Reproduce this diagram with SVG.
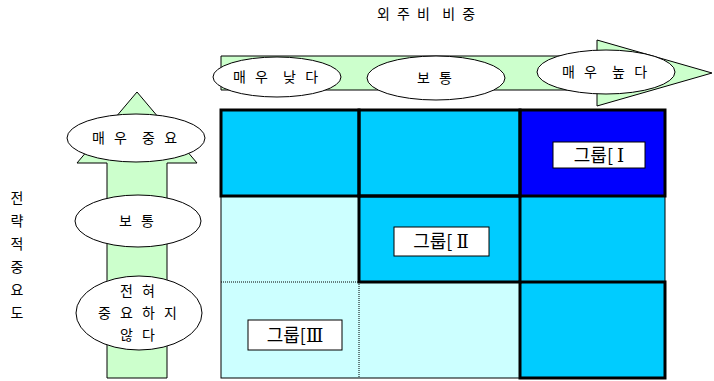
<svg xmlns="http://www.w3.org/2000/svg" width="714" height="381" viewBox="0 0 714 381">
<style>
text{white-space:pre}
.lbl{font-family:"Noto Sans CJK KR","Liberation Sans",sans-serif;font-size:14px;fill:#000;text-anchor:middle}
.grp{font-family:"Noto Sans CJK KR","Liberation Serif",serif;font-size:18px;fill:#000;text-anchor:middle}
.num{font-family:"DejaVu Serif","Noto Sans CJK KR",serif}
.ell{fill:#fff;stroke:#000;stroke-width:1}
.arrow{fill:#CCFFCC;stroke:#000;stroke-width:1}
.thin{fill:none;stroke:#000;stroke-width:1}
.thick{fill:none;stroke:#000;stroke-width:3}
.box{fill:#fff;stroke:#000;stroke-width:1}
</style>
<rect width="714" height="381" fill="#fff"/>
<text id="title-x" class="lbl" x="427" y="19" letter-spacing="2" xml:space="preserve">외 주 비  비 중</text>
<g id="title-y" class="lbl">
<text x="17" y="203">전</text>
<text x="17" y="226">략</text>
<text x="17" y="249">적</text>
<text x="17" y="272">중</text>
<text x="17" y="295">요</text>
<text x="17" y="318">도</text>
</g>
<g id="grid">
<rect x="221" y="110" width="138" height="86" fill="#00CCFF"/>
<rect x="359" y="110" width="161" height="86" fill="#00CCFF"/>
<rect x="520" y="110" width="145" height="86" fill="#0000FF"/>
<rect x="221" y="196" width="138" height="86" fill="#CCFFFF"/>
<rect x="359" y="196" width="161" height="86" fill="#00CCFF"/>
<rect x="520" y="196" width="145" height="86" fill="#00CCFF"/>
<rect x="221" y="282" width="138" height="96" fill="#CCFFFF"/>
<rect x="359" y="282" width="161" height="96" fill="#CCFFFF"/>
<rect x="520" y="282" width="145" height="96" fill="#00CCFF"/>
<rect class="thin" x="221" y="110" width="444" height="268"/>
<line class="thin" x1="221" y1="196" x2="665" y2="196"/>
<line x1="221" y1="282" x2="359" y2="282" stroke="#000" stroke-width="1" stroke-dasharray="1,1"/>
<line x1="359" y1="282" x2="359" y2="378" stroke="#000" stroke-width="1" stroke-dasharray="1,1"/>
<line class="thin" x1="520" y1="110" x2="520" y2="378"/>
<line class="thin" x1="359" y1="110" x2="359" y2="282"/>
<rect class="thick" x="221" y="110" width="138" height="86"/>
<rect class="thick" x="359" y="110" width="161" height="86"/>
<rect class="thick" x="520" y="110" width="145" height="86"/>
<rect class="thick" x="359" y="196" width="161" height="86" stroke-width="2.5"/>
<rect class="thick" x="520" y="282" width="145" height="96"/>
</g>
<g id="group1">
<rect class="box" x="553" y="142" width="92" height="26"/>
<text class="grp" x="599" y="162" xml:space="preserve">그룹[ <tspan class="num">Ⅰ</tspan></text>
</g>
<g id="group2">
<rect class="box" x="394" y="227" width="95" height="29"/>
<text class="grp" x="441" y="248" xml:space="preserve">그룹[ <tspan class="num">Ⅱ</tspan></text>
</g>
<g id="group3">
<rect class="box" x="248" y="320" width="94" height="30"/>
<text class="grp" x="295" y="342">그룹[<tspan class="num">Ⅲ</tspan></text>
</g>
<g id="arrow-x">
<polygon class="arrow" points="221,56 597,56 597,40 712,73 597,106 597,90 221,90"/>
</g>
<g id="arrow-y">
<polygon class="arrow" points="107,378 107,163 77,163 137,92 197,163 167,163 167,378"/>
</g>
<g id="x-low">
<ellipse class="ell" cx="277" cy="77" rx="64" ry="20"/>
<text class="lbl" x="277" y="82" letter-spacing="3" xml:space="preserve">매 우  낮 다</text>
</g>
<g id="x-mid">
<ellipse class="ell" cx="436" cy="78" rx="69" ry="22"/>
<text class="lbl" x="436" y="83" letter-spacing="3" xml:space="preserve">보 통</text>
</g>
<g id="x-high">
<ellipse class="ell" cx="606" cy="72" rx="69" ry="22"/>
<text class="lbl" x="606" y="77" letter-spacing="3" xml:space="preserve">매 우  높 다</text>
</g>
<g id="y-high">
<ellipse class="ell" cx="136" cy="138" rx="69" ry="24"/>
<text class="lbl" x="136" y="143" letter-spacing="3" xml:space="preserve">매 우  중 요</text>
</g>
<g id="y-mid">
<ellipse class="ell" cx="138" cy="221" rx="63" ry="26"/>
<text class="lbl" x="138" y="226" letter-spacing="3" xml:space="preserve">보 통</text>
</g>
<g id="y-low">
<ellipse class="ell" cx="139" cy="313" rx="63" ry="37"/>
<text class="lbl" x="139" y="296" letter-spacing="3" xml:space="preserve">전 혀</text>
<text class="lbl" x="139" y="318" letter-spacing="3" xml:space="preserve">중 요 하 지</text>
<text class="lbl" x="139" y="340" letter-spacing="3" xml:space="preserve">않 다</text>
</g>
</svg>
